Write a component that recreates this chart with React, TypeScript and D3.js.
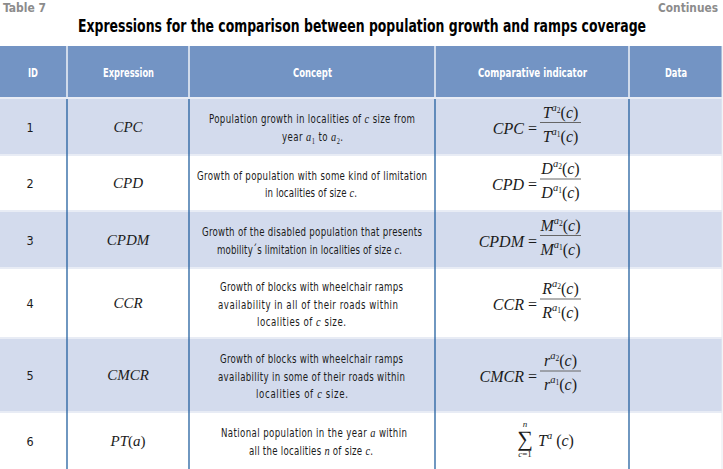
import React from "react";
import * as d3 from "d3";

// ---------- data ----------
const tableLabel = "Table 7";
const continuesLabel = "Continues";
const title = "Expressions for the comparison between population growth and ramps coverage";
const headers = ["ID", "Expression", "Concept", "Comparative indicator", "Data"];
const ids = ["1", "2", "3", "4", "5", "6"];
const expressions = ["CPC", "CPD", "CPDM", "CCR", "CMCR", "PT(a)"];

// concept lines: segments [text, style]; style "" normal, "i" italic math, "sub" subscript
type Seg = [string, string];
const concepts: Seg[][][] = [
  [
    [["Population growth in localities of ", ""], ["c", "i"], [" size  from", ""]],
    [["year ", ""], ["a", "i"], ["1", "sub"], [" to ", ""], ["a", "i"], ["2", "sub"], [".", ""]],
  ],
  [
    [["Growth of population with some kind of  limitation", ""]],
    [["in localities of size ", ""], ["c", "i"], [".", ""]],
  ],
  [
    [["Growth of the disabled population that presents", ""]],
    [["mobility\u00b4s limitation in localities of size ", ""], ["c", "i"], [".", ""]],
  ],
  [
    [["Growth of blocks with wheelchair ramps", ""]],
    [["availability in all of their roads within", ""]],
    [["localities of ", ""], ["c", "i"], [" size.", ""]],
  ],
  [
    [["Growth of blocks with wheelchair ramps", ""]],
    [["availability in some of their roads within", ""]],
    [["localities of ", ""], ["c", "i"], ["  size.", ""]],
  ],
  [
    [["National population in the year ", ""], ["a", "i"], [" within", ""]],
    [["all the localities ", ""], ["n", "i"], [" of size ", ""], ["c", "i"], [".", ""]],
  ],
];
const formulaLhs = ["CPC", "CPD", "CPDM", "CCR", "CMCR"];
const formulaSymbols = ["T", "D", "M", "R", "r"];
const sumTerm = "T";

// ---------- layout ----------
const W = 723;
const H = 469;
const colEdges = [0, 67, 189, 435, 629, 722];
const headerTop = 46;
const headerBottom = 98;
const rowHeights = [57, 56, 57, 70, 74, 57];
const rowTops = [headerBottom, ...d3.cumsum(rowHeights).map((v) => v + headerBottom)];
// measured extents of each concept line [left, width]
const conceptExtents: [number, number][][] = [
  [[209, 206], [282, 61]],
  [[197, 230], [265, 92]],
  [[202, 220], [217, 185]],
  [[220, 183], [218, 180], [257, 89]],
  [[220, 183], [218, 187], [256, 92]],
  [[221, 186], [249, 124]],
];
const squeeze = 0.8; // uniform horizontal condensing of the sans text
const headerCenters = [33, 128.5, 312.5, 532.5, 676];
const headerWidths = [10, 51, 39, 109, 22];

const headerFill = "#7394c4";
const stripeFill = "#d3dbed";
const gridBlue = "#23609f";
const sepColor = "#e8ecf5";
const textDark = "#1b1b1b";
const condensed = "'DejaVu Sans Condensed', 'Liberation Sans Narrow', sans-serif";
const serif = "'Liberation Serif', 'Times New Roman', serif";

function ConceptLine({ segs, x, y, w }: { segs: Seg[]; x: number; y: number; w: number }) {
  const parts: React.ReactNode[] = [];
  let shifted = false;
  segs.forEach(([t, s], k) => {
    if (s === "sub") {
      parts.push(
        <tspan key={k} fontFamily={serif} fontSize={8} dy={3}>
          {t}
        </tspan>
      );
      shifted = true;
    } else {
      const dy = shifted ? -3 : 0;
      shifted = false;
      parts.push(
        <tspan
          key={k}
          dy={dy || undefined}
          fontFamily={s === "i" ? serif : condensed}
          fontStyle={s === "i" ? "italic" : "normal"}
          fontSize={s === "i" ? 13 : 12}
        >
          {t}
        </tspan>
      );
    }
  });
  return (
    <g transform={`translate(${x},${y}) scale(${squeeze},1)`}>
      <text
        x={0}
        y={0}
        fill={textDark}
        fontFamily={condensed}
        fontSize={12}
        textLength={w / squeeze}
        lengthAdjust="spacing"
      >
        {parts}
      </text>
    </g>
  );
}

function Power({ x, y, base, idx }: { x: number; y: number; base: string; idx: string }) {
  return (
    <text x={x} y={y} textAnchor="middle" fontFamily={serif} fontSize={16} fill={textDark}>
      <tspan fontStyle="italic">{base}</tspan>
      <tspan fontStyle="italic" fontSize={10.5} dy={-7}>a</tspan>
      <tspan fontSize={7.5} dy={2}>{idx}</tspan>
      <tspan dy={5}>(</tspan>
      <tspan fontStyle="italic">c</tspan>
      <tspan>)</tspan>
    </text>
  );
}

export default function App() {
  const rowCenter = (i: number) => (rowTops[i] + rowTops[i + 1]) / 2;
  const barX0 = 540;
  const barX1 = 581;
  const barMid = (barX0 + barX1) / 2;
  const lineGap = 17.5;

  return (
    <svg
      width={W}
      height={H}
      style={{ position: "absolute", left: 0, top: 0, background: "#fff" }}
      xmlns="http://www.w3.org/2000/svg"
    >
      <rect x={0} y={0} width={W} height={H} fill="#fff" />
      {/* top labels */}
      <text x={3} y={12} fontFamily={condensed} fontWeight="bold" fontSize={12} fill="#8c8c8c" textLength={43} lengthAdjust="spacingAndGlyphs">
        {tableLabel}
      </text>
      <text x={658} y={12} fontFamily={condensed} fontWeight="bold" fontSize={12} fill="#8c8c8c" textLength={60} lengthAdjust="spacingAndGlyphs">
        {continuesLabel}
      </text>
      <text
        x={78}
        y={32}
        fontFamily={condensed}
        fontWeight="bold"
        fontSize={17}
        fill="#000"
        textLength={568}
        lengthAdjust="spacingAndGlyphs"
      >
        {title}
      </text>

      {/* header */}
      <rect x={colEdges[0]} y={headerTop} width={colEdges[5] - colEdges[0]} height={headerBottom - headerTop} fill={headerFill} />
      {headers.map((h, i) => (
        <text
          key={h}
          x={headerCenters[i] - headerWidths[i] / 2}
          y={77}
          fontFamily={condensed}
          fontWeight="bold"
          fontSize={12.5}
          fill="#fff"
          textLength={headerWidths[i]}
          lengthAdjust="spacingAndGlyphs"
        >
          {h}
        </text>
      ))}
      {colEdges.slice(1, 5).map((x) => (
        <line key={x} x1={x} x2={x} y1={headerTop} y2={headerBottom} stroke="#eef2f9" strokeWidth={1.5} />
      ))}

      {/* body rows */}
      {rowHeights.map((h, i) => (
        <rect
          key={i}
          x={colEdges[0]}
          y={rowTops[i]}
          width={colEdges[5] - colEdges[0]}
          height={h}
          fill={i % 2 === 0 ? stripeFill : "#fff"}
        />
      ))}
      {rowTops.slice(0, 6).map((y, i) => (
        <line key={i} x1={colEdges[0]} x2={colEdges[5]} y1={y} y2={y} stroke={sepColor} strokeWidth={2} />
      ))}
      {colEdges.slice(1, 5).map((x) => (
        <line key={x} x1={x} x2={x} y1={headerBottom + 1} y2={H} stroke={gridBlue} strokeWidth={1.3} />
      ))}
      <line x1={722} x2={722} y1={headerTop} y2={H} stroke="#e6e9ef" strokeWidth={1} />

      {/* ids */}
      {ids.map((id, i) => (
        <text key={id} x={30} y={rowCenter(i) + 5} textAnchor="middle" fontFamily={condensed} fontSize={12.5} fill={textDark}>
          {id}
        </text>
      ))}
      {/* expressions */}
      {expressions.map((e, i) => {
        const y = rowCenter(i) + 5;
        if (e === "PT(a)") {
          return (
            <text key={e} x={128} y={y} textAnchor="middle" fontFamily={serif} fontSize={15} fill={textDark}>
              <tspan fontStyle="italic">PT</tspan>
              <tspan>(</tspan>
              <tspan fontStyle="italic">a</tspan>
              <tspan>)</tspan>
            </text>
          );
        }
        return (
          <text key={e} x={128} y={y} textAnchor="middle" fontFamily={serif} fontStyle="italic" fontSize={15} fill={textDark}>
            {e}
          </text>
        );
      })}
      {/* concepts */}
      {concepts.map((lines, i) =>
        lines.map((segs, j) => (
          <ConceptLine
            key={`${i}-${j}`}
            segs={segs}
            x={conceptExtents[i][j][0]}
            w={conceptExtents[i][j][1]}
            y={rowCenter(i) + 5.5 + (j - (lines.length - 1) / 2) * lineGap}
          />
        ))
      )}
      {/* formulas */}
      {formulaLhs.map((lhs, i) => {
        const bar = rowCenter(i) - 4;
        return (
          <g key={lhs}>
            <text x={537} y={bar + 11} textAnchor="end" fontFamily={serif} fontSize={16} fill={textDark}>
              <tspan fontStyle="italic">{lhs}</tspan>
              <tspan> =</tspan>
            </text>
            <line x1={barX0} x2={barX1} y1={bar} y2={bar} stroke="#666" strokeWidth={1} />
            <Power x={barMid} y={bar - 5} base={formulaSymbols[i]} idx="2" />
            <Power x={barMid} y={bar + 19} base={formulaSymbols[i]} idx="1" />
          </g>
        );
      })}
      {(() => {
        const c = rowCenter(5);
        return (
          <g>
            <text x={525} y={c - 13.5} textAnchor="middle" fontFamily={serif} fontStyle="italic" fontSize={9} fill={textDark}>
              n
            </text>
            <text x={525} y={c + 5} textAnchor="middle" fontFamily={serif} fontSize={22} fill={textDark}>
              {"\u2211"}
            </text>
            <text x={525} y={c + 16.5} textAnchor="middle" fontFamily={serif} fontSize={9} fill={textDark}>
              <tspan fontStyle="italic">c</tspan>
              <tspan>=1</tspan>
            </text>
            <text x={538} y={c + 5} fontFamily={serif} fontSize={16} fill={textDark}>
              <tspan fontStyle="italic">{sumTerm}</tspan>
              <tspan fontStyle="italic" fontSize={10.5} dy={-7}>a</tspan>
              <tspan dy={7}> (</tspan>
              <tspan fontStyle="italic">c</tspan>
              <tspan>)</tspan>
            </text>
          </g>
        );
      })()}
    </svg>
  );
}
